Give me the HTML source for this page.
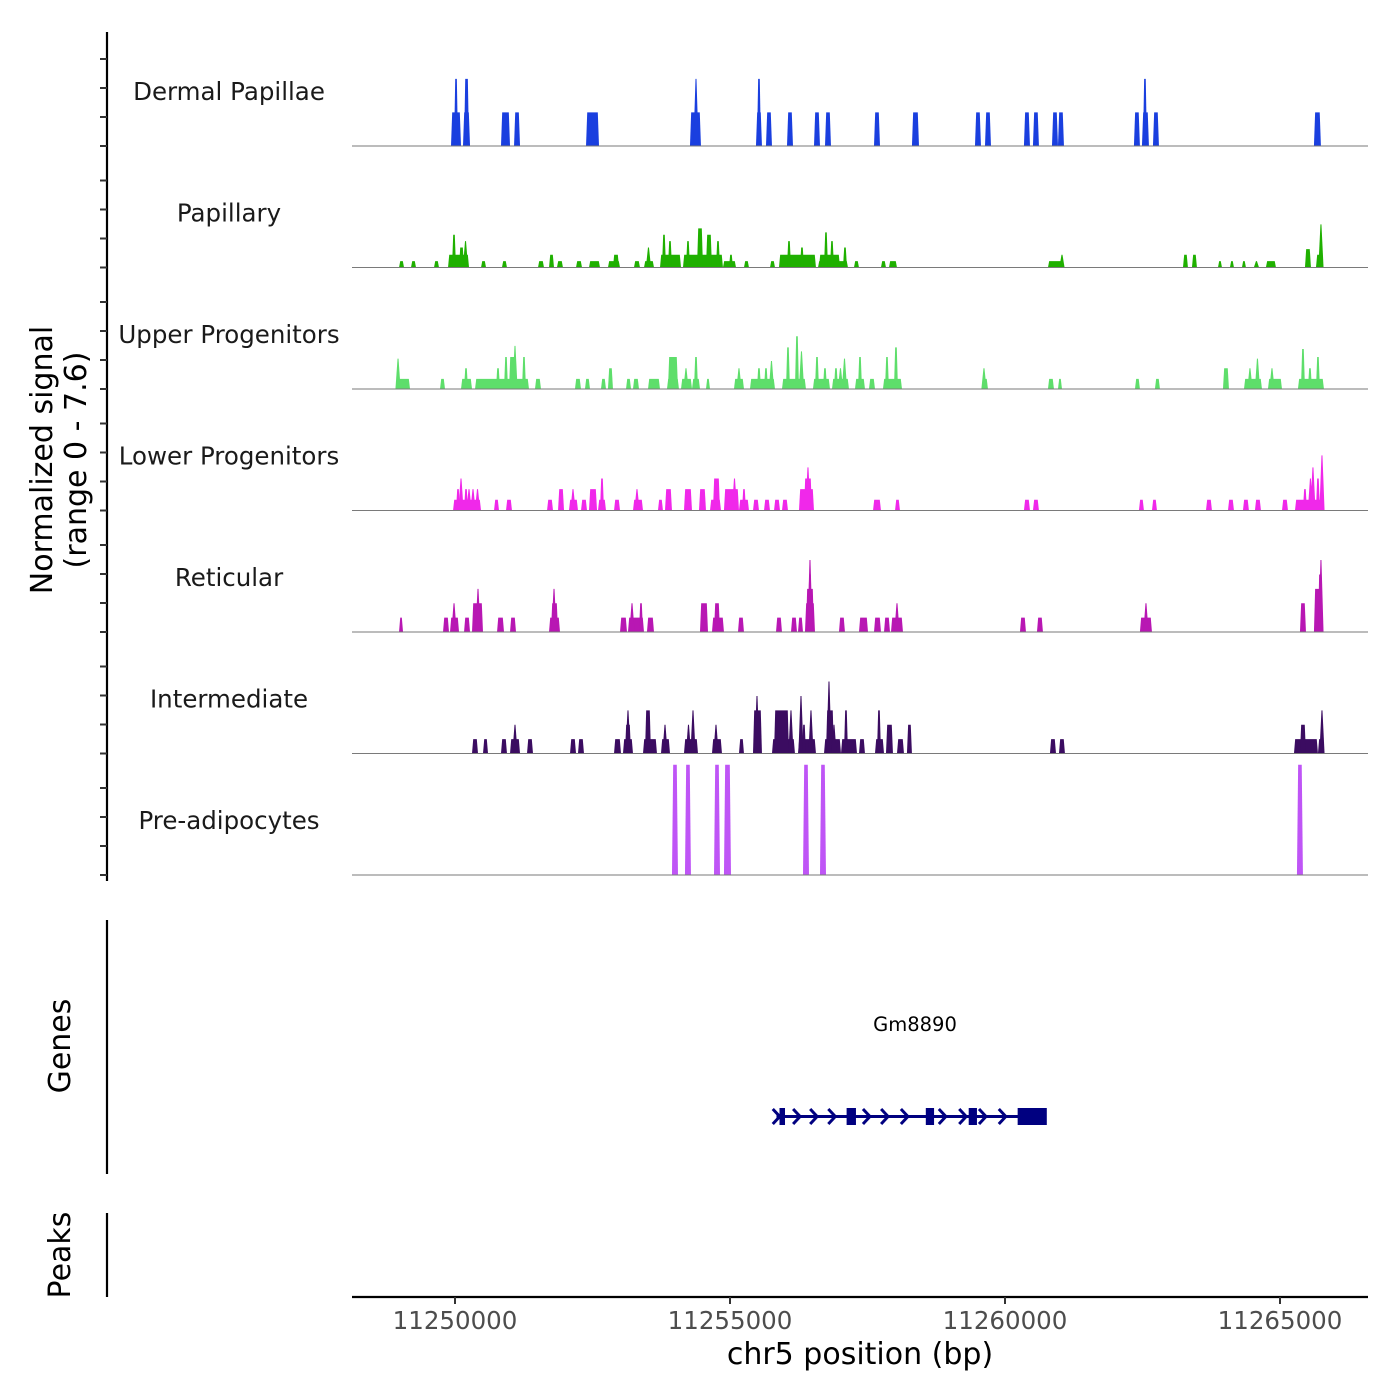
<!DOCTYPE html>
<html><head><meta charset="utf-8"><style>
html,body{margin:0;padding:0;background:#fff;}
svg{display:block;font-family:"DejaVu Sans","Liberation Sans",sans-serif;}
</style></head><body>
<svg id="chart" width="1400" height="1400" viewBox="0 0 1400 1400" xmlns="http://www.w3.org/2000/svg"></svg>
<script>
// ---- data (positions are bp offsets from 11,250,000; values are normalized signal) ----
const regionStart = 11248127;
const regionEnd = 11266600;
const origin = 11250000;
const xTicks = [11250000, 11255000, 11260000, 11265000];
const trackNames = ["Dermal Papillae","Papillary","Upper Progenitors","Lower Progenitors","Reticular","Intermediate","Pre-adipocytes"];
const trackColors = ["#1a3fdf","#1fb000","#5ede6b","#f028ea","#b817b3","#3b0c61","#bf55f6"];
const yMax = 7.6;

const dermalPapillae = [[-73,109,2.1],[-18,55,4.2],[145,273,2.1],[164,255,4.2],[836,1000,2.1],[1073,1182,2.1],[2382,2618,2.1],[4272,4472,2.1],[4363,4400,4.2],[5472,5581,2.1],[5490,5563,4.2],[5654,5763,2.1],[6036,6145,2.1],[6527,6636,2.1],[6727,6836,2.1],[7618,7727,2.1],[8308,8436,2.1],[9454,9563,2.1],[9636,9745,2.1],[10344,10454,2.1],[10508,10617,2.1],[10854,10963,2.1],[10963,11072,2.1],[12344,12453,2.1],[12490,12617,2.1],[12508,12581,4.2],[12690,12799,2.1],[15617,15744,2.1]];

const papillary = [[-1018,-927,0.4],[-800,-709,0.4],[-382,-291,0.4],[-127,255,0.8],[-55,18,2.05],[73,164,1.25],[164,218,1.65],[473,564,0.4],[854,945,0.4],[1509,1618,0.4],[1709,1800,0.8],[1854,1963,0.4],[2200,2309,0.4],[2436,2636,0.4],[2781,3000,0.4],[2872,2982,0.8],[3254,3363,0.4],[3436,3618,0.4],[3490,3545,1.25],[3727,4109,0.8],[3763,3836,2.05],[3872,3945,1.65],[4145,4872,0.8],[4200,4272,1.65],[4400,4509,2.45],[4563,4672,2.05],[4745,4818,1.65],[4872,5109,0.4],[4981,5054,0.8],[5254,5345,0.4],[5727,5818,0.4],[5890,6563,0.8],[6036,6109,1.65],[6272,6345,1.25],[6600,7145,0.4],[6618,7000,0.8],[6709,6781,2.2],[6818,6890,1.65],[7054,7127,1.25],[7254,7345,0.4],[7745,7836,0.4],[7890,8036,0.4],[10781,11072,0.4],[11018,11054,0.8],[13236,13326,0.8],[13399,13490,0.8],[13872,13945,0.4],[14090,14163,0.4],[14308,14381,0.4],[14544,14599,0.4],[14744,14926,0.4],[15454,15563,1.15],[15654,15763,0.8],[15726,15763,2.7]];

const upperProgenitors = [[-1036,-818,0.63],[-1054,-1018,1.9],[-273,-182,0.63],[109,309,0.63],[164,236,1.3],[364,1345,0.63],[745,818,1.3],[891,963,2.0],[982,1127,2.0],[1072,1109,2.7],[1218,1290,2.0],[1454,1563,0.63],[2181,2290,0.63],[2363,2454,0.63],[2654,2745,0.63],[2781,2872,1.3],[3109,3200,0.63],[3236,3345,0.63],[3509,3727,0.63],[3854,4072,0.63],[3872,4054,2.0],[4109,4309,0.63],[4181,4218,1.3],[4309,4454,0.63],[4345,4418,2.0],[4563,4636,0.63],[5072,5254,0.63],[5145,5181,1.3],[5363,5818,0.63],[5490,5563,1.3],[5618,5690,1.3],[5727,5781,1.75],[5945,6381,0.63],[6018,6090,2.6],[6181,6254,3.3],[6272,6327,2.35],[6508,6818,0.63],[6545,6618,2.0],[6690,6763,1.3],[6854,7163,0.63],[6890,6963,1.3],[6981,7036,1.3],[7054,7109,1.9],[7272,7454,0.63],[7327,7400,2.0],[7527,7636,0.63],[7781,8127,0.63],[7818,7890,2.0],[7981,8054,2.6],[9581,9690,0.63],[9599,9636,1.3],[10781,10890,0.63],[10963,11036,0.63],[12363,12453,0.63],[12726,12817,0.63],[13963,14072,1.3],[14345,14672,0.63],[14435,14472,1.3],[14563,14617,1.9],[14781,15036,0.63],[14836,14872,1.3],[15326,15799,0.63],[15381,15454,2.5],[15508,15581,1.3],[15654,15726,2.0]];

const lowerProgenitors = [[-36,473,0.67],[18,91,1.34],[91,127,2.0],[164,236,1.34],[236,273,1.34],[309,345,1.34],[382,436,1.34],[709,800,0.67],[927,1036,0.67],[1673,1782,0.67],[1873,1982,1.34],[2072,2236,0.67],[2127,2163,1.34],[2291,2400,0.67],[2436,2582,1.34],[2600,2745,0.67],[2636,2709,2.0],[2891,3000,0.67],[3236,3418,0.67],[3290,3327,1.34],[3690,3781,0.67],[3818,3945,1.34],[4163,4309,1.34],[4436,4563,1.34],[4636,4836,0.67],[4690,4818,2.0],[4890,5163,1.34],[5054,5109,2.0],[5163,5345,0.67],[5218,5290,1.34],[5418,5527,0.67],[5618,5727,0.67],[5800,5909,0.67],[5945,6054,0.67],[6254,6527,1.34],[6345,6490,2.0],[6399,6436,2.7],[7600,7745,0.67],[8000,8090,0.67],[10344,10454,0.67],[10508,10617,0.67],[12435,12526,0.67],[12672,12763,0.67],[13654,13763,0.67],[14054,14163,0.67],[14326,14435,0.67],[14544,14654,0.67],[15036,15145,0.67],[15272,15799,0.67],[15417,15490,1.34],[15526,15581,2.0],[15581,15617,2.7],[15654,15726,2.0],[15745,15781,3.45]];

const reticular = [[-1018,-945,0.9],[-218,-109,0.9],[-91,73,0.9],[-36,0,1.8],[164,273,0.9],[309,509,1.8],[400,436,2.7],[764,891,0.9],[1000,1109,0.9],[1709,1909,0.9],[1745,1873,1.8],[1782,1818,2.7],[3000,3127,0.9],[3145,3436,0.9],[3200,3236,1.8],[3345,3418,1.8],[3490,3618,0.9],[4454,4600,1.8],[4672,4890,0.9],[4709,4818,1.8],[5145,5254,0.9],[5836,5945,0.9],[6109,6218,0.9],[6236,6327,0.9],[6363,6545,1.8],[6381,6527,2.7],[6417,6490,3.6],[6436,6472,4.5],[6981,7090,0.9],[7345,7509,0.9],[7618,7745,0.9],[7800,7909,0.9],[7927,8145,0.9],[8018,8054,1.8],[10272,10381,0.9],[10581,10690,0.9],[12453,12672,0.9],[12545,12581,1.8],[15363,15472,1.8],[15617,15763,2.7],[15690,15763,3.6],[15726,15763,4.5]];

const intermediate = [[309,418,0.9],[509,600,0.9],[836,945,0.9],[1000,1182,0.9],[1072,1109,1.8],[1309,1418,0.9],[2091,2200,0.9],[2236,2345,0.9],[2891,3018,0.9],[3054,3236,0.9],[3090,3200,1.8],[3127,3163,2.7],[3418,3672,0.9],[3454,3563,2.7],[3745,3909,0.9],[3800,3836,1.8],[4163,4418,0.9],[4218,4272,1.8],[4309,4345,2.7],[4672,4854,0.9],[4727,4763,1.8],[5163,5254,0.9],[5418,5581,2.7],[5472,5509,3.6],[5763,6181,0.9],[5800,6072,2.7],[6090,6127,2.7],[6236,6563,0.9],[6272,6309,3.6],[6309,6381,1.8],[6454,6490,2.7],[6709,7018,0.9],[6745,6890,2.7],[6781,6818,4.5],[6872,6909,1.8],[7018,7309,0.9],[7072,7145,2.7],[7345,7454,0.9],[7636,7800,0.9],[7672,7745,2.7],[7836,7963,1.8],[8036,8163,0.9],[8217,8308,1.8],[10817,10927,0.9],[10981,11090,0.9],[15254,15690,0.9],[15363,15472,1.8],[15690,15781,0.9],[15745,15781,2.7]];

const preAdipocytes = [[3945,4054,6.9],[4181,4290,6.9],[4709,4818,6.9],[4890,5018,6.9],[6327,6436,6.9],[6636,6745,6.9],[15308,15417,6.9]];

const tracks = [dermalPapillae, papillary, upperProgenitors, lowerProgenitors, reticular, intermediate, preAdipocytes];

// gene model (absolute bp)
const geneName = "Gm8890";
const geneStart = 11255845;
const geneEnd = 11260750;
const exonStarts = [11255900, 11257120, 11258560, 11259340, 11260230];
const exonEnds = [11256000, 11257290, 11258710, 11259490, 11260760];
const arrowPositions = [11255850, 11256220, 11256530, 11256860, 11257490, 11257820, 11258180, 11258870, 11259240, 11259600, 11259960];

// ---- drawing ----
const NS = "http://www.w3.org/2000/svg";
const svg = document.getElementById("chart");
const plotL = 352, plotR = 1368;
const xScale = bp => plotL + (bp - regionStart) / (regionEnd - regionStart) * (plotR - plotL);
const trackTop = 25, trackH = 121.5;
const baseline = i => trackTop + (i + 1) * trackH - 0.5;
const yScale = (i, v) => baseline(i) - v / yMax * trackH;

function el(tag, attrs, parent) {
  const e = document.createElementNS(NS, tag);
  for (const k in attrs) e.setAttribute(k, attrs[k]);
  (parent || svg).appendChild(e);
  return e;
}

tracks.forEach((segs, i) => {
  const g = el("g", {});
  
  
  const b = baseline(i);
  segs.forEach(s => {
    let x1 = xScale(origin + s[0]), x2 = xScale(origin + s[1]);
    const yt = yScale(i, s[2]);
    let p;
    if (x2 - x1 < 3.5) {
      // narrow spike: draw as a triangle with a wider base
      const c = (x1 + x2) / 2;
      p = el("polygon", {points: `${c - 2.6},${b} ${c - 0.5},${yt} ${c + 0.5},${yt} ${c + 2.6},${b}`, fill: trackColors[i]}, g);
    } else {
      const sl = Math.min(1.2, (x2 - x1) / 2 - 0.5);
      p = el("polygon", {points: `${x1},${b} ${x1 + sl},${yt} ${x2 - sl},${yt} ${x2},${b}`, fill: trackColors[i]}, g);
    }
    
    
  });
  const ln = el("line", {x1: plotL, x2: plotR, y1: b, y2: b, stroke: "#7a7a7a", "stroke-width": 1}, g);
  
  
  const t = el("text", {x: 229, y: b - 46, "text-anchor": "middle", "font-size": 24.5, fill: "#1a1a1a"});
  t.textContent = trackNames[i];
  
  
});

// y axis with ticks
const yAxis = el("line", {x1: 107, x2: 107, y1: 32, y2: 881, stroke: "#000", "stroke-width": 2.2});


for (let i = 0; i < tracks.length; i++) {
  for (let k = 0; k < 4; k++) {
    const y = baseline(i) - k * 29;
    const tk = el("line", {x1: 100, x2: 107, y1: y, y2: y, stroke: "#333", "stroke-width": 2});
    
    
  }
}
const yt = el("text", {transform: "translate(52,460) rotate(-90)", "text-anchor": "middle", "font-size": 30, fill: "#000"});


const ts1 = el("tspan", {x: 0, dy: 0}, yt); ts1.textContent = "Normalized signal";
const ts2 = el("tspan", {x: 0, dy: 34}, yt); ts2.textContent = "(range 0 - 7.6)";

// genes panel
const gAx = el("line", {x1: 107, x2: 107, y1: 920, y2: 1174, stroke: "#000", "stroke-width": 2.2});


const gT = el("text", {transform: "translate(70,1046) rotate(-90)", "text-anchor": "middle", "font-size": 30, fill: "#000"});
gT.textContent = "Genes";


const gl = el("text", {x: 915, y: 1031, "text-anchor": "middle", "font-size": 19.5, fill: "#000"});
gl.textContent = geneName;


const gg = el("g", {});


el("line", {x1: xScale(geneStart), x2: xScale(geneEnd), y1: 1116.5, y2: 1116.5, stroke: "#000080", "stroke-width": 3}, gg);
exonStarts.forEach((s, j) => {
  const r = el("rect", {x: xScale(s), y: 1108, width: xScale(exonEnds[j]) - xScale(s), height: 17, fill: "#000080"}, gg);
  
  
});
arrowPositions.forEach(a => {
  const x = xScale(a);
  const c = el("polyline", {points: `${x - 4},${1109} ${x + 3},${1116.5} ${x - 4},${1124}`, fill: "none", stroke: "#000080", "stroke-width": 3}, gg);
  
  
});

// peaks panel
const pAx = el("line", {x1: 107, x2: 107, y1: 1213, y2: 1297, stroke: "#000", "stroke-width": 2.2});


const pT = el("text", {transform: "translate(70,1255) rotate(-90)", "text-anchor": "middle", "font-size": 30, fill: "#000"});
pT.textContent = "Peaks";



// x axis
const xAx = el("line", {x1: plotL, x2: plotR, y1: 1297, y2: 1297, stroke: "#000", "stroke-width": 2.2});


xTicks.forEach(t => {
  const x = xScale(t);
  const tk = el("line", {x1: x, x2: x, y1: 1297, y2: 1304, stroke: "#333", "stroke-width": 2});
  
  
  const lb = el("text", {x: x, y: 1329, "text-anchor": "middle", "font-size": 24.5, fill: "#4d4d4d"});
  lb.textContent = String(t);
  
  
});
const xt = el("text", {x: 860, y: 1364, "text-anchor": "middle", "font-size": 30, fill: "#000"});
xt.textContent = "chr5 position (bp)";


</script>
</body></html>
